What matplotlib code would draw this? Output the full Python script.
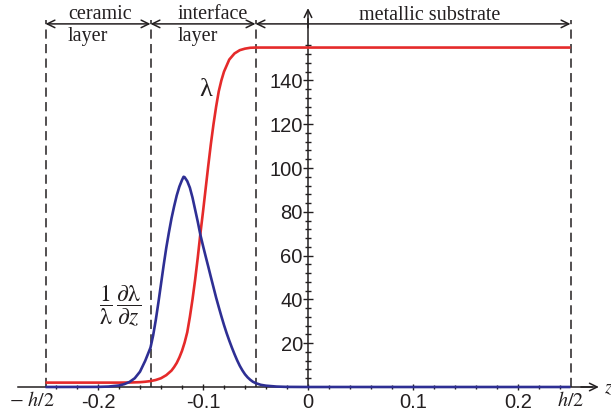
import matplotlib
matplotlib.use('Agg')
import matplotlib.pyplot as plt

plt.rcParams['mathtext.fontset'] = 'stix'
plt.rcParams['axes.unicode_minus'] = False

# ---------------- data ----------------
layer_bounds = [-0.25, -0.15, -0.05, 0.25]
layer_names = ["ceramic\nlayer", "interface\nlayer", "metallic substrate"]

z_lambda = [-0.25, -0.18, -0.17, -0.16, -0.155, -0.15, -0.145, -0.14, -0.135,
            -0.13, -0.1275, -0.125, -0.1225, -0.12, -0.1175, -0.115, -0.1125,
            -0.11, -0.1075, -0.105, -0.1025, -0.10, -0.0975, -0.095, -0.0925,
            -0.09, -0.0875, -0.085, -0.0825, -0.08, -0.075, -0.07, -0.065,
            -0.06, -0.055, -0.05, 0.25]
lam = [2.0, 2.0, 2.05, 2.2, 2.4, 2.7, 3.2, 4.0, 5.4,
       7.5, 9.1, 11.0, 13.5, 16.5, 20.3, 25.0, 32.0,
       40.0, 49.0, 59.0, 70.0, 80.0, 90.5, 101.0, 111.0,
       120.0, 128.0, 135.0, 140.0, 144.0, 149.5, 152.3, 153.8,
       154.5, 154.9, 155.0, 155.0]

z_dlam = [-0.25, -0.20, -0.19, -0.18, -0.175, -0.17, -0.165, -0.16, -0.155,
          -0.15, -0.1475, -0.145, -0.1425, -0.14, -0.1375, -0.135, -0.1325,
          -0.13, -0.1275, -0.125, -0.1225, -0.12, -0.1185, -0.1175, -0.115,
          -0.1125, -0.11, -0.1075, -0.105, -0.1025, -0.10, -0.0975, -0.095,
          -0.0925, -0.09, -0.0875, -0.085, -0.0825, -0.08, -0.0775, -0.075,
          -0.0725, -0.07, -0.0675, -0.065, -0.0625, -0.06, -0.0575, -0.055,
          -0.0525, -0.05, -0.045, -0.04, -0.03, -0.02, 0.0, 0.25]
dlam = [0.0, 0.05, 0.2, 0.7, 1.3, 2.3, 4.0, 7.0, 12.0,
        18.0, 23.5, 30.5, 38.5, 47.0, 55.5, 63.5, 70.5,
        77.0, 82.5, 87.5, 91.5, 94.5, 96.0, 95.8, 94.0,
        91.0, 86.5, 81.0, 75.5, 69.5, 64.5, 59.7, 55.0,
        50.2, 45.5, 40.8, 36.5, 32.3, 28.3, 24.6, 21.2,
        18.0, 15.0, 12.2, 9.7, 7.6, 5.8, 4.4, 3.3,
        2.4, 1.8, 1.0, 0.6, 0.2, 0.05, 0.0, 0.0]

x_major = [-0.2, -0.1, 0.0, 0.1, 0.2]
x_major_labels = ["-0.2", "-0.1", "0", "0.1", "0.2"]
x_minor = [round(-0.24 + 0.02 * i, 2) for i in range(25)]
y_major = [20, 40, 60, 80, 100, 120, 140]
y_major_labels = ["20", "40", "60", "80", "100", "120", "140"]
y_minor = [4 * i for i in range(1, 40)]

# ---------------- figure ----------------
W, H = 611, 416
fig = plt.figure(figsize=(W / 100, H / 100), dpi=100)
ax = fig.add_axes([0, 0, 1, 1])
X0, XS, Y0, YS = 308, 1050.0, 387, 2.19
ax.set_xlim((0 - X0) / XS, (W - X0) / XS)
ax.set_ylim((Y0 - H) / YS, Y0 / YS)

ink = '#231f20'
red = '#e52a2a'
blue = '#2e2f94'


def fx(px):
    return px / W


def fy(py):
    return 1 - py / H


for s in ['top', 'right']:
    ax.spines[s].set_visible(False)
ax.spines['bottom'].set_position(('data', 0))
ax.spines['left'].set_position(('data', 0))
ax.spines['bottom'].set_bounds(-0.276, 0.27)
ax.spines['left'].set_bounds(0, 168)
for s in ['bottom', 'left']:
    ax.spines[s].set_linewidth(1.1)
    ax.spines[s].set_color(ink)
    ax.spines[s].set_zorder(2.5)

arrow_kw = dict(arrowstyle='->,head_length=0.55,head_width=0.27', lw=1.1,
                color=ink, shrinkA=0, shrinkB=0)
ax.annotate('', xy=(0.277, 0), xytext=(0.26, 0), arrowprops=arrow_kw)
ax.annotate('', xy=(0, 173), xytext=(0, 164), arrowprops=arrow_kw)

tick_font = dict(fontsize=14.5, fontname='Liberation Sans', color=ink)
ax.set_xticks(x_major)
ax.set_xticklabels(x_major_labels, **tick_font)
ax.set_xticks([v for v in x_minor if round(v, 2) not in x_major], minor=True)
ax.set_yticks(y_major)
ax.set_yticklabels(y_major_labels, **tick_font)
ax.set_yticks([v for v in y_minor if v not in y_major and v <= 156], minor=True)
ax.tick_params(axis='x', which='major', direction='inout', length=5, width=1,
               pad=1.5, color=ink)
ax.tick_params(axis='x', which='minor', direction='inout', length=3, width=1,
               color=ink)
ax.tick_params(axis='y', which='major', direction='inout', length=6.5, width=1,
               pad=0.5, color=ink)
ax.tick_params(axis='y', which='minor', direction='inout', length=4.3, width=1,
               color=ink)

# dashed layer boundaries
for zb in layer_bounds:
    ax.plot([zb, zb], [0, 167.5], ls=(0, (6, 3.5)), lw=1.1, color=ink,
            zorder=1.5)

# double arrows with layer names
dbl_kw = dict(arrowstyle='<->,head_length=0.55,head_width=0.27', lw=1.1,
              color=ink, shrinkA=0, shrinkB=0)
for i in range(3):
    ax.annotate('', xy=(layer_bounds[i], 165.8), xytext=(layer_bounds[i + 1], 165.8),
                arrowprops=dbl_kw)

serif = dict(fontname='Liberation Serif', fontsize=14.5, color=ink)
fig.text(fx(68), fy(19), "ceramic", ha='left', va='baseline', **serif)
fig.text(fx(68), fy(41.5), "layer", ha='left', va='baseline', **serif)
fig.text(fx(178), fy(19), "interface", ha='left', va='baseline', **serif)
fig.text(fx(178), fy(41.5), "layer", ha='left', va='baseline', **serif)
fig.text(fx(430), fy(20), "metallic substrate", ha='center', va='baseline', **serif)

# curves
ax.plot(z_lambda, lam, color=red, lw=1.9, zorder=3, solid_capstyle='butt')
ax.plot(z_dlam, dlam, color=blue, lw=1.9, zorder=3.2, solid_capstyle='butt')

# curve labels
fig.text(fx(206), fy(90), "λ", ha='center', va='center', fontname='Liberation Serif',
         fontsize=19, color=ink)
fig.text(fx(120), fy(306),
         r'$\dfrac{1}{\mathrm{\lambda}}\,\dfrac{\partial\mathrm{\lambda}}{\partial z}$',
         ha='center', va='center', fontsize=17, color=ink)

# h/2 labels and axis name
fig.text(fx(55), fy(406), r'$-\ h/2$', ha='right', va='baseline', fontsize=14.5, color=ink)
fig.text(fx(571), fy(406), r'$h/2$', ha='center', va='baseline', fontsize=14.5, color=ink)
fig.text(fx(604), fy(393), r'$z$', ha='left', va='baseline', fontsize=14.5, color=ink)

fig.savefig('out.png', dpi=100)
